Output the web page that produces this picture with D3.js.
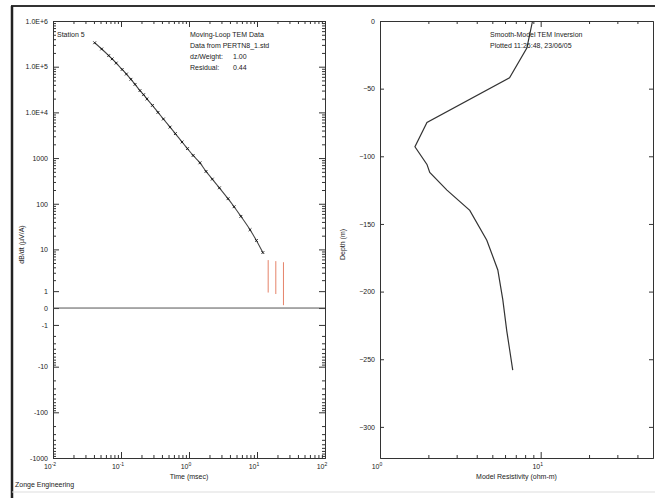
<!DOCTYPE html>
<html>
<head>
<meta charset="utf-8">
<script src="https://cdn.jsdelivr.net/npm/d3@7"></script>
<style>
body { margin: 0; background: #fff; }
svg text { font-family: "Liberation Sans", Arial, sans-serif; font-size: 7px; fill: #222; }
.axis path, .axis line { stroke: #333; stroke-width: 1; }
</style>
</head>
<body>
<div id="viz"></div>
<script>
// left panel - measured TEM gates (time msec, dB/dt uV/A)
var gateTimes = [0.041, 0.052, 0.066, 0.074, 0.085, 0.104, 0.12, 0.14, 0.161, 0.19, 0.215, 0.241, 0.29, 0.35, 0.42,
  0.526, 0.63, 0.79, 0.95, 1.15, 1.45, 1.78, 2.2, 2.8, 3.75, 4.6, 5.8, 7.9, 9.8, 12.2];
var gateValues = [3.34e5, 2.44e5, 1.75e5, 1.48e5, 1.2e5, 8.7e4, 6.9e4, 5.3e4, 4.1e4, 3.0e4, 2.44e4, 1.97e4, 1.42e4, 1.0e4, 7160,
  4760, 3430, 2245, 1610, 1140, 787, 510, 346, 223, 129, 86, 53, 27, 15.7, 8.5];
// late gates shown only as error bars
var badTimes = [14.6, 18.9, 24.5];
var badLow = [0.9, 0.8, 0.15];
var badHigh = [5.8, 5.5, 5.2];

var timeTicks = [0.01, 0.1, 1, 10, 100];
var timeTickExp = ["-2", "-1", "0", "1", "2"];
var dbdtTicks = [1e6, 1e5, 1e4, 1000, 100, 10, 1, 0, -1, -10, -100, -1000];
var dbdtLabels = ["1.0E+6", "1.0E+5", "1.0E+4", "1000", "100", "10", "1", "0", "-1", "-10", "-100", "-1000"];

// right panel - smooth model inversion
var modelDepth = [0, -20, -42, -75, -93, -106, -112, -125, -140, -162, -184, -206, -229, -243, -258];
var modelRes = [8.9, 8.2, 6.4, 1.96, 1.65, 1.96, 2.04, 2.61, 3.62, 4.62, 5.41, 5.81, 6.15, 6.41, 6.7];
var depthTicks = [0, -50, -100, -150, -200, -250, -300];
var resTicks = [1, 10];
var resTickExp = ["0", "1"];

var width = 655, height = 498;
var L = {x0: 53, x1: 325, y0: 21, y1: 458};
var R = {x0: 380, x1: 653, y0: 21, y1: 458};

var svg = d3.select('#viz').append('svg')
  .attr('width', width)
  .attr('height', height);

// page frame
svg.append('line').attr('x1', 11).attr('x2', 655).attr('y1', 6).attr('y2', 6)
  .attr('stroke', '#333').attr('stroke-width', 2);
svg.append('line').attr('x1', 12).attr('x2', 12).attr('y1', 6).attr('y2', 498)
  .attr('stroke', '#222').attr('stroke-width', 2.5);
svg.append('line').attr('x1', 12).attr('x2', 655).attr('y1', 492).attr('y2', 492)
  .attr('stroke', '#ddd').attr('stroke-width', 1);

// ---------- left panel ----------
var asA = 1.044;
var xL = d3.scaleLog().domain([0.01, 100]).range([L.x0, L.x1]);
var yT = d3.scaleLinear().domain([Math.asinh(-1000 / asA), Math.asinh(1e6 / asA)]).range([L.y1, L.y0]);
var yL = v => yT(Math.asinh(v / asA));

// minor tick positions
var timeMinor = [];
timeTicks.slice(0, -1).forEach(t => { for (var m = 2; m < 10; m++) timeMinor.push(t * m); });
var dbdtMinor = [];
[1, 10, 100, 1000, 1e4, 1e5].forEach(t => { for (var m = 2; m < 10; m++) dbdtMinor.push(t * m); });
[1, 10, 100].forEach(t => { for (var m = 2; m < 10; m++) dbdtMinor.push(-t * m); });
var asinhVals = arr => arr.map(v => Math.asinh(v / asA));

var gl = svg.append('g');

gl.append('g').attr('class', 'axis').attr('transform', `translate(${L.x0},0)`)
  .call(d3.axisLeft(yT).tickValues(asinhVals(dbdtTicks)).tickSize(-6).tickSizeOuter(0).tickPadding(5)
    .tickFormat((d, i) => dbdtLabels[i]));
gl.append('g').attr('class', 'axis').attr('transform', `translate(${L.x0},0)`)
  .call(d3.axisLeft(yT).tickValues(asinhVals(dbdtMinor)).tickSize(-3).tickSizeOuter(0).tickFormat(''));
gl.append('g').attr('class', 'axis').attr('transform', `translate(${L.x1},0)`)
  .call(d3.axisRight(yT).tickValues(asinhVals(dbdtTicks)).tickSize(-6).tickSizeOuter(0).tickFormat(''));
gl.append('g').attr('class', 'axis').attr('transform', `translate(${L.x1},0)`)
  .call(d3.axisRight(yT).tickValues(asinhVals(dbdtMinor)).tickSize(-3).tickSizeOuter(0).tickFormat(''));

[[d3.axisBottom, L.y1], [d3.axisTop, L.y0]].forEach(function(a) {
  gl.append('g').attr('class', 'axis').attr('transform', `translate(0,${a[1]})`)
    .call(a[0](xL).tickValues(timeTicks).tickSize(-6).tickSizeOuter(0).tickFormat(''));
  gl.append('g').attr('class', 'axis').attr('transform', `translate(0,${a[1]})`)
    .call(a[0](xL).tickValues(timeMinor).tickSize(-3).tickSizeOuter(0).tickFormat(''));
});

// x tick labels 10^n
var xlab = gl.selectAll('.xlab').data(timeTicks).enter().append('text')
  .attr('class', 'xlab')
  .attr('x', d => xL(d) - 3)
  .attr('y', L.y1 + 11)
  .attr('text-anchor', 'middle');
xlab.append('tspan').text('10');
xlab.append('tspan').attr('dy', -3).attr('font-size', 5).text((d, i) => timeTickExp[i]);

// zero line
gl.append('line').attr('x1', L.x0).attr('x2', L.x1).attr('y1', yL(0)).attr('y2', yL(0))
  .attr('stroke', '#555').attr('stroke-width', 1);

// error bars of late gates
gl.selectAll('.ebar').data(badTimes).enter().append('line')
  .attr('class', 'ebar')
  .attr('x1', d => xL(d)).attr('x2', d => xL(d))
  .attr('y1', (d, i) => yL(badHigh[i])).attr('y2', (d, i) => yL(badLow[i]))
  .attr('stroke', '#e5836a').attr('stroke-width', 1);

// data line + markers
var gates = gateTimes.map((t, i) => ({t: t, v: gateValues[i]}));
gl.append('path').datum(gates)
  .attr('fill', 'none').attr('stroke', '#444').attr('stroke-width', 1.1)
  .attr('d', d3.line().curve(d3.curveMonotoneX).x(d => xL(d.t)).y(d => yL(d.v)));
gl.selectAll('.mk').data(gates).enter().append('path')
  .attr('class', 'mk')
  .attr('transform', d => `translate(${xL(d.t)},${yL(d.v)})`)
  .attr('d', d3.symbol().type(d3.symbolTimes).size(6))
  .attr('stroke', '#111').attr('stroke-width', 0.9).attr('fill', 'none');

// labels
gl.append('text').attr('x', 57).attr('y', 37).text('Station 5');
var info = [['Moving-Loop TEM Data', ''], ['Data from PERTN8_1.std', ''], ['dz/Weight:', '1.00'], ['Residual:', '0.44']];
info.forEach(function(r, i) {
  gl.append('text').attr('x', 190).attr('y', 37 + i * 11).text(r[0]);
  if (r[1]) gl.append('text').attr('x', 233).attr('y', 37 + i * 11).text(r[1]);
});
gl.append('text').attr('x', (L.x0 + L.x1) / 2).attr('y', 479).attr('text-anchor', 'middle').text('Time (msec)');
gl.append('text').attr('transform', `translate(24,${(L.y0 + L.y1) / 2 + 5}) rotate(-90)`)
  .attr('text-anchor', 'middle').text('dB/dt  (\u00b5V/A)');
gl.append('text').attr('x', 15).attr('y', 487).text('Zonge Engineering');

// ---------- right panel ----------
var xR = d3.scaleLog().domain([1, 50]).range([R.x0, R.x1]);
var yR = d3.scaleLinear().domain([-323, 0]).range([R.y1, R.y0]);
var resMinor = [2, 3, 4, 5, 6, 7, 8, 9, 20, 30, 40];

var gr = svg.append('g');
gr.append('g').attr('class', 'axis').attr('transform', `translate(${R.x0},0)`)
  .call(d3.axisLeft(yR).tickValues(depthTicks).tickSize(-4).tickSizeOuter(0).tickPadding(5));
gr.append('g').attr('class', 'axis').attr('transform', `translate(${R.x1},0)`)
  .call(d3.axisRight(yR).tickValues(depthTicks).tickSize(-4).tickSizeOuter(0).tickFormat(''));
[[d3.axisBottom, R.y1], [d3.axisTop, R.y0]].forEach(function(a) {
  gr.append('g').attr('class', 'axis').attr('transform', `translate(0,${a[1]})`)
    .call(a[0](xR).tickValues(resTicks).tickSize(-6).tickSizeOuter(0).tickFormat(''));
  gr.append('g').attr('class', 'axis').attr('transform', `translate(0,${a[1]})`)
    .call(a[0](xR).tickValues(resMinor).tickSize(-3).tickSizeOuter(0).tickFormat(''));
});

var rlab = gr.selectAll('.rlab').data(resTicks).enter().append('text')
  .attr('class', 'rlab')
  .attr('x', d => xR(d) - 3)
  .attr('y', R.y1 + 11)
  .attr('text-anchor', 'middle');
rlab.append('tspan').text('10');
rlab.append('tspan').attr('dy', -3).attr('font-size', 5).text((d, i) => resTickExp[i]);

var model = modelDepth.map((d, i) => ({d: d, r: modelRes[i]}));
gr.append('path').datum(model)
  .attr('fill', 'none').attr('stroke', '#333').attr('stroke-width', 1.2)
  .attr('d', d3.line().x(d => xR(d.r)).y(d => yR(d.d)));

gr.append('text').attr('x', 490).attr('y', 37).text('Smooth-Model TEM Inversion');
gr.append('text').attr('x', 490).attr('y', 48).text('Plotted 11:26:48, 23/06/05');
gr.append('text').attr('x', (R.x0 + R.x1) / 2).attr('y', 479).attr('text-anchor', 'middle').text('Model Resistivity (ohm-m)');
gr.append('text').attr('transform', `translate(345,${(R.y0 + R.y1) / 2 + 5}) rotate(-90)`)
  .attr('text-anchor', 'middle').text('Depth  (m)');
</script>
</body>
</html>
